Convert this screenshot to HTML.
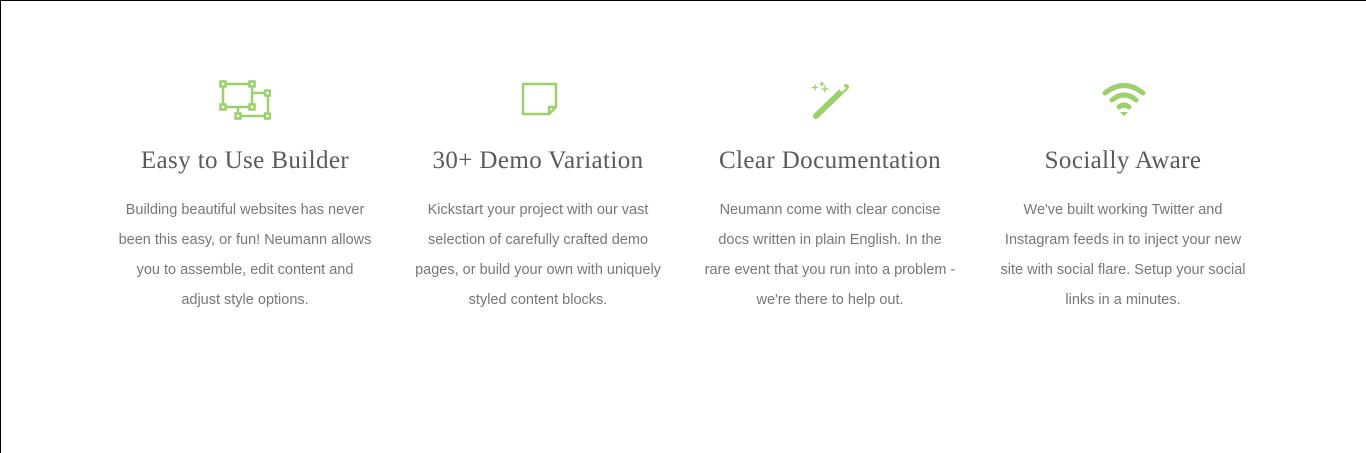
<!DOCTYPE html>
<html><head><meta charset="utf-8"><style>
html,body{margin:0;padding:0}
body{width:1366px;height:453px;background:#fff;position:relative;overflow:hidden;border-top:1px solid #000;border-left:1px solid #000;box-sizing:border-box}
.col{position:absolute;top:0;width:292px;text-align:center}
.icon{position:absolute;top:78px;left:121px;width:52px;height:44px}
h3{position:absolute;top:143px;left:0;width:292px;margin:0;font-family:"Liberation Serif",serif;font-weight:normal;font-size:25px;color:#5a5a5a;line-height:34px;letter-spacing:0.4px}
p{position:absolute;top:194px;left:-20px;width:332px;margin:0;font-family:"Liberation Sans",sans-serif;font-size:14.5px;line-height:30px;color:#777;white-space:nowrap}
</style></head><body>
<div class="col" style="left:98px">
<svg class="icon" viewBox="0 0 52 44" style="left:120px"><g fill="none" stroke="#9bd06a" stroke-width="2.5"><rect x="4" y="5" width="29" height="23"/><path d="M33 14H49V37H19V28"/><rect x="1.5" y="2.5" width="5" height="5" fill="#fff"/><rect x="30.5" y="2.5" width="5" height="5" fill="#fff"/><rect x="1.5" y="25.5" width="5" height="5" fill="#fff"/><rect x="30.5" y="25.5" width="5" height="5" fill="#fff"/><rect x="46" y="11.5" width="5" height="5" fill="#fff"/><rect x="46" y="34.5" width="5" height="5" fill="#fff"/><rect x="16.5" y="34.5" width="5" height="5" fill="#fff"/></g></svg>
<h3>Easy to Use Builder</h3>
<p>Building beautiful websites has never<br>been this easy, or fun! Neumann allows<br>you to assemble, edit content and<br>adjust style options.</p>
</div>
<div class="col" style="left:391px">
<svg class="icon" viewBox="0 0 52 44" style="left:128px"><path d="M3 5H36V28L29 35H3Z M29 35V28H36" fill="none" stroke="#9bd06a" stroke-width="2.5" stroke-linejoin="round"/></svg>
<h3>30+ Demo Variation</h3>
<p>Kickstart your project with our vast<br>selection of carefully crafted demo<br>pages, or build your own with uniquely<br>styled content blocks.</p>
</div>
<div class="col" style="left:683px">
<svg class="icon" viewBox="0 0 52 44" style="left:126px"><g stroke="#9bd06a" stroke-linecap="round"><path d="M6 37L36 8" stroke-width="6"/><path d="M5 6v5M2.5 8.5h5M12 3v4M10 5h4M15 7v6M12 10h6M23 19v3M21.5 20.5h3" stroke-width="1.3"/></g><path d="M29 10l4-4 3 3-4 4z" fill="#fff"/></svg>
<h3>Clear Documentation</h3>
<p>Neumann come with clear concise<br>docs written in plain English. In the<br>rare event that you run into a problem -<br>we're there to help out.</p>
</div>
<div class="col" style="left:976px">
<svg class="icon" viewBox="0 0 52 44" style="left:124px"><g fill="none" stroke="#9bd06a" stroke-width="5" stroke-linecap="round"><path d="M4 14Q23 -1 42 14"/><path d="M11 21Q23 11 35 21"/><path d="M18 28Q23 24 28 28"/></g><path d="M19 33L23 37L27 33Z" fill="#9bd06a"/></svg>
<h3>Socially Aware</h3>
<p>We've built working Twitter and<br>Instagram feeds in to inject your new<br>site with social flare. Setup your social<br>links in a minutes.</p>
</div>
</body></html>
